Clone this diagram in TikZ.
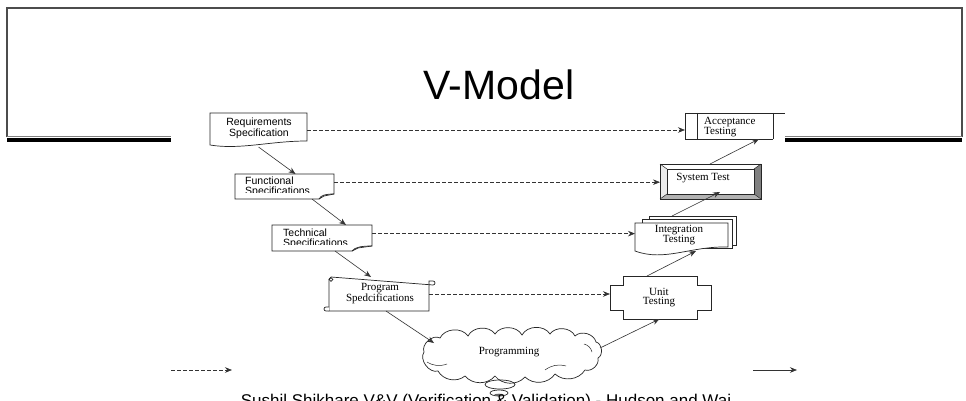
\documentclass[tikz,border=0pt]{standalone}
\usepackage{fontspec}
\setmainfont{Liberation Serif}
\newfontfamily\uisans{Liberation Sans}
\usetikzlibrary{arrows.meta}

\begin{document}
\begin{tikzpicture}[x=1pt,y=-1pt,
  outline/.style={draw=black!85, line width=0.7pt},
  link/.style={draw=black!80, line width=0.6pt, -{Stealth[length=7pt,width=5.5pt]}},
  tracelink/.style={link, dash pattern=on 3.5pt off 2.5pt},
  slot/.style={inner sep=0pt, outer sep=0pt},
  speclabel/.style={font=\uisans\fontsize{10.5}{9.5}\selectfont, inner sep=0pt},
  testlabel/.style={font=\fontsize{11}{9.8}\selectfont, inner sep=0pt, align=center},
  slideline/.style={draw=black!70, line width=1.4pt},
]
\useasboundingbox (0,0) rectangle (966,401);
\clip (0,0) rectangle (966,401);
\fill[white] (0,0) rectangle (966,401);

% ---- slide frame ----
\draw[slideline] (7,137) -- (7,8) -- (962,8) -- (962,137);
\draw[black!50, line width=0.8pt] (7,136) -- (171,136) (785,136) -- (962,136);
\draw[black, line width=4.5pt] (7,140) -- (171,140) (785,140) -- (962,140);

% ---- title ----
\node[font=\uisans\fontsize{41}{41}\selectfont, anchor=base, inner sep=0pt] (title) at (499,100) {V-Model};

% ---- node geometry ----
\node[slot, minimum width=97pt,  minimum height=34pt] (req)    at (258.5,130) {};
\node[slot, minimum width=99pt,  minimum height=25pt] (func)   at (284.5,186.5) {};
\node[slot, minimum width=100pt, minimum height=26pt] (tech)   at (322,238) {};
\node[slot, minimum width=100pt, minimum height=34pt] (prog)   at (379,294) {};
\node[slot, minimum width=180pt, minimum height=44pt] (cloud)  at (510,356) {};
\node[slot, minimum width=101pt, minimum height=43pt] (unit)   at (660.5,297.5) {};
\node[slot, minimum width=93pt,  minimum height=32pt] (integ)  at (681.5,239) {};
\node[slot, minimum width=101pt, minimum height=35pt] (system) at (710.5,181.5) {};
\node[slot, minimum width=100pt, minimum height=26pt] (accept) at (735,126) {};

% ---- left branch: specification documents ----
\draw[outline, fill=white] (210,113) -- (307,113) -- (307,141)
  .. controls (270,141) and (240,150) .. (210,145) -- cycle;
\draw[outline, fill=white] (235,174) -- (334,174) -- (334,194)
  .. controls (326,194) and (321,195) .. (319,199) -- (235,199) -- cycle;
\draw[outline] (319,199) -- (324,196) -- (334,194);
\draw[outline, fill=white] (272,225) -- (372,225) -- (372,246)
  .. controls (362,246) and (355,247) .. (352,251) -- (272,251) -- cycle;
\draw[outline] (352,251) -- (358,248) -- (372,246);

% scroll
\draw[outline, fill=white] (329,279) -- (329,311) -- (429,311) -- (429,281) -- (433,281)
  arc[start angle=90, end angle=-90, radius=2pt] -- (331,277) -- (329,279);
\draw[outline] (331,279.5) circle[radius=1.8pt];
\draw[outline, fill=white] (329,311) -- (326,311) arc[start angle=-90, end angle=-270, radius=2pt] -- (329,307);

% cloud
\draw[outline, fill=white] (424,352)
  to[bend left=70] (440,338)
  to[bend left=60] (468,336)
  to[bend left=60] (495,334)
  to[bend left=60] (522,335)
  to[bend left=60] (550,334)
  to[bend left=60] (575,336)
  to[bend left=60] (596,342)
  to[bend left=70] (598,358)
  to[bend left=60] (585,370)
  to[bend left=50] (555,374)
  to[bend left=50] (525,377)
  to[bend left=50] (495,376)
  to[bend left=50] (465,376)
  to[bend left=50] (438,371)
  to[bend left=70] (424,352);
\draw[outline, line width=0.5pt] (427,362) to[bend right=25] (447,364);
\draw[outline, line width=0.5pt] (545,370) to[bend left=25] (566,366);
\draw[outline, line width=0.5pt] (584,344) to[bend left=30] (592,352);
\draw[outline] (500,384.5) ellipse[x radius=15pt, y radius=4.5pt];
\draw[outline] (499,393) ellipse[x radius=9pt, y radius=3pt];
\fill[black!60] (499,395) ellipse[x radius=5pt, y radius=1.3pt];

% ---- right branch: test stages ----
\draw[outline, fill=white] (623,276) -- (697,276) -- (697,285) -- (711,285) -- (711,310)
  -- (697,310) -- (697,319) -- (623,319) -- (623,310) -- (610,310) -- (610,285) -- (623,285) -- cycle;

\draw[outline, fill=white] (649,216) rectangle (736,245);
\draw[outline, fill=white] (642,219.5) rectangle (732,248.5);
\draw[outline, fill=white] (635,223) -- (728,223) -- (728,247)
  .. controls (690,246) and (665,262) .. (635,251) -- cycle;

\fill[white] (660,164) rectangle (761,199);
\fill[black!8] (660,164) -- (667,169) -- (667,194) -- (660,199) -- cycle;
\fill[black!50] (761,164) -- (761,199) -- (754,194) -- (754,169) -- cycle;
\fill[black!30] (660,199) -- (761,199) -- (754,194) -- (667,194) -- cycle;
\draw[outline] (660,164) rectangle (761,199);
\draw[outline] (667,169) rectangle (754,194);
\draw[outline, line width=0.5pt] (660,164) -- (667,169) (761,164) -- (754,169)
  (660,199) -- (667,194) (761,199) -- (754,194);

\fill[white] (685,113) rectangle (773,139);
\draw[outline] (685,113) -- (785,113);
\draw[outline] (685,113) -- (685,139) -- (773,139);
\draw[outline] (697,113) -- (697,139);
\draw[outline] (773,113) -- (773,139);

% ---- labels ----
\node[speclabel, align=center] (reqT) at (259,128) {Requirements\\Specification};
\begin{scope}
  \clip (236,175) rectangle (333,192.5);
  \node[speclabel, align=left, anchor=west] (funcT) at (245,187) {Functional\\Specifications};
\end{scope}
\begin{scope}
  \clip (273,226) rectangle (371,244);
  \node[speclabel, align=left, anchor=west] (techT) at (283,238.7) {Technical\\Specifications};
\end{scope}
\node[testlabel] (progT)   at (380,293.5) {Program\\Spedcifications};
\node[testlabel] (cloudT)  at (509,352)   {Programming};
\node[testlabel] (unitT)   at (659,297.5) {Unit\\Testing};
\node[testlabel] (integT)  at (679,235)   {Integration\\Testing};
\node[testlabel] (systemT) at (703,178)   {System Test};
\node[testlabel, align=left, anchor=west] (acceptT) at (704,127) {Acceptance\\Testing};

% ---- verification links (dashed) ----
\draw[tracelink] (req.east) -- (req.east -| accept.west);
\draw[tracelink] (func.5) -- (func.5 -| system.west);
\draw[tracelink] (tech.5) -- (tech.5 -| integ.west);
\draw[tracelink] (prog.east) -- (prog.east -| unit.west);

% ---- development flow (solid) ----
\draw[link] (req.south) -- ([xshift=11pt]func.north);
\draw[link] ([xshift=27.5pt]func.south) -- ([xshift=24pt]tech.north);
\draw[link] ([xshift=13pt]tech.south) -- ([xshift=-8pt]prog.north);
\draw[link] ([xshift=7pt]prog.south) -- ([xshift=14pt,yshift=-9pt]cloud.north west);
\draw[link] ([yshift=8pt]cloud.east) -- ([xshift=-1pt]unit.south);
\draw[link] ([xshift=-13.5pt]unit.north) -- ([xshift=14.5pt,yshift=4pt]integ.south);
\draw[link] ([xshift=-9.5pt,yshift=7pt]integ.north) -- ([xshift=9.5pt,yshift=7pt]system.south);
\draw[link] ([xshift=-0.5pt]system.north) -- ([xshift=24pt]accept.south);

% ---- legend ----
\coordinate (legA) at (171,370);
\coordinate (legB) at (232,370);
\coordinate (legC) at (753,370);
\coordinate (legD) at (797,370);
\draw[tracelink] (legA) -- (legB);
\draw[link] (legC) -- (legD);

% ---- credit line ----
\node[font=\uisans\fontsize{17}{17}\selectfont, anchor=base, inner sep=0pt] (credit) at (486,406)
  {Sushil Shikhare  V\&V (Verification \& Validation) - Hudson and Wai};
\end{tikzpicture}
\end{document}
